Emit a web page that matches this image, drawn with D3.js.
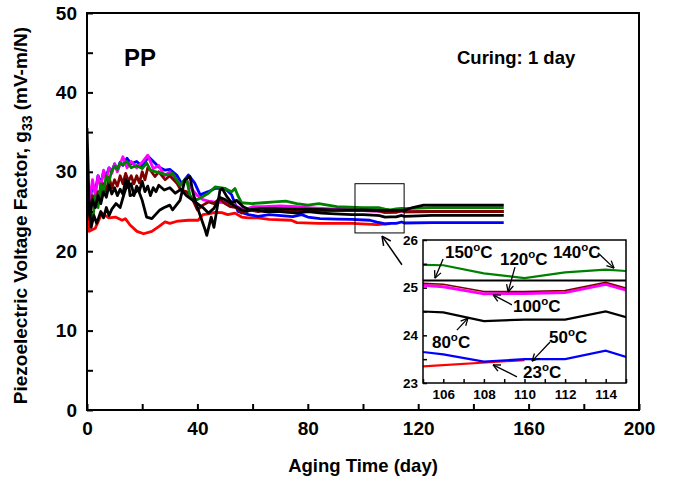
<!DOCTYPE html>
<html><head><meta charset="utf-8">
<script src="https://cdn.jsdelivr.net/npm/d3@7"></script>
<style>body{margin:0;background:#fff}svg{display:block}text{font-family:"Liberation Sans",Arial,sans-serif;font-weight:bold}</style>
</head><body><svg id="c" width="675" height="481"></svg>
<script>
// ---- data ----
const xTicks = [0, 40, 80, 120, 160, 200];
const yTicks = [0, 10, 20, 30, 40, 50];
const insetXTicks = [106, 108, 110, 112, 114];
const insetYTicks = [23, 24, 25, 26];

const s23 = [[0,26.2],[0.8,22.5],[3,22.9],[5.4,24.8],[7.9,24.2],[10.3,24.3],[12.7,23.9],[13.9,24.1],[15.6,23.3],[18.1,22.5],[20.5,22.2],[23.5,22.5],[26,23.1],[28.3,23.7],[30,23.5],[33,23.8],[36.7,23.9],[40.3,23.9],[42,24.6],[44,24.7],[46.4,24.9],[48.8,24.85],[51,24.6],[53.6,24.8],[56,24.3],[58.4,24.2],[62,24.2],[66,24.0],[74,23.9],[76,23.6],[84,23.5],[96,23.5],[105,23.35],[110,23.48]];
const s50 = [[0,28],[1,26],[2,28.5],[3,27.5],[4,29.5],[5,28.5],[6,30],[7,29.5],[8,30.5],[9,30],[10,31],[11,30.2],[12,31.2],[13,30.8],[14.5,31.7],[16,31],[18,31.3],[20,30.7],[22.3,31.9],[24.6,31.1],[26,30.6],[28.3,30.2],[30,30.3],[32.5,29.6],[34.3,28.5],[36.7,29.6],[39,28.6],[41,27.1],[43.9,27.5],[46.4,27.9],[50,27.9],[52.4,27.1],[54.7,25.0],[58.5,24.6],[62,24.4],[66,24.6],[74.6,24.35],[77.8,24.6],[80,24.3],[84.4,24.1],[90.5,24.05],[96,24.0],[102.5,23.9],[105,23.65],[106,23.6],[108,23.45],[110,23.5],[112,23.5],[114,23.68],[115,23.55],[125,23.6],[140,23.6],[151,23.6]];
const s80 = [[0,26],[1,24.5],[2,26.5],[3,25.5],[4,27],[5,26],[6,27.5],[7,26.8],[8,28.3],[9,27.2],[10,28],[11,27],[12,27.8],[13,27.2],[14,29],[15,28],[16,28.5],[17,27],[18,28.2],[19,27.6],[20,28.8],[21,27.5],[22,28.2],[23,27],[24,28],[25,27.5],[26,28.3],[28,27.7],[30,28],[32,27.3],[34,27.8],[36,27],[38,26.5],[40,26.0],[42,25.5],[44,24.8],[46,25.4],[48,26.8],[50,26.5],[52,26.0],[54,25.6],[56,25.2],[58,25.0],[60,25.3],[64,25.0],[70,25.0],[76,24.8],[80,25.0],[85,24.8],[90,24.7],[96,24.6],[100,24.6],[105,24.5],[106,24.48],[108,24.3],[110,24.33],[112,24.33],[114,24.5],[115,24.38],[125,24.5],[140,24.5],[151,24.5]];
const s100 = [[0,26],[1,24],[2,27],[3,25.5],[4,27.5],[5,26.5],[6,28.5],[7,27.5],[8,29.3],[9,28],[10,29],[11,28.2],[12,29.5],[13,28.5],[14,29.8],[15,28.8],[16,29.5],[17,28.5],[18,29.5],[19,28.6],[20,30],[21,29],[22,30.5],[23,30.2],[24.6,29.4],[26,30],[28.3,29],[30,29.5],[32.5,28.6],[34,27.7],[36,27.5],[38,26.7],[40,25.2],[42,25.8],[44,26.2],[46,26],[48,26.6],[50,26],[52,25.6],[54,25.5],[56,24.8],[58,25.2],[62,25.0],[66,25.2],[70,25.1],[76,25.0],[80,25.1],[90,25.1],[100,25.1],[105,25.07],[106,25.05],[108,24.9],[110,24.9],[112,24.92],[114,25.09],[115,24.97],[125,25.0],[140,25.0],[151,25.0]];
const s120 = [[0,27.7],[1,26.5],[2,29],[3,27],[4,29.5],[5,28],[6,30.2],[7,29],[8,30.5],[9,29.8],[10,31],[11,30],[13,31.9],[14.5,30.5],[16,31.3],[18,30.5],[20,31.2],[22,32.1],[24,30.4],[26,30.8],[28,29.5],[30,30],[32,29.2],[34,28.3],[36,29],[38,27.8],[40,27],[42,26.5],[44,26.3],[46,26.2],[50,26.1],[52,26.3],[54,25.7],[57,25.2],[60,25.6],[64,25.6],[70,25.7],[76,25.6],[80,25.5],[90,25.3],[100,25.1],[105,25.05],[106,25.02],[108,24.87],[110,24.88],[112,24.9],[114,25.07],[115,24.95],[125,25.0],[140,25.0],[151,25.0]];
const s140 = [[0,27],[1,25],[2.2,24.2],[3,27],[4,25.5],[5,28.5],[6,27.5],[7,29.5],[8,28.8],[9,30.2],[10,30.7],[11,30.3],[12,31.1],[13,30.9],[14.5,31.3],[16,30.5],[18,30.8],[20,30.4],[21.6,31.1],[23,30.2],[25,30],[27,29.8],[29,29.6],[31,29.8],[33.7,28.3],[36,29.2],[37.5,26.7],[40,26.5],[42,26.9],[44,27.3],[46.4,28.1],[50,27.9],[52.4,27.5],[53.6,27.9],[54.8,26.9],[56,26.1],[59.7,26.0],[64,26.1],[68,26.2],[72,26.3],[76,26.0],[80,25.8],[84,26.0],[90.5,25.6],[100,25.5],[105,25.48],[106,25.47],[108,25.3],[110,25.2],[112,25.32],[114,25.38],[115,25.35],[125,25.5],[140,25.5],[151,25.5]];
const s150 = [[0,35.5],[0.7,26.5],[1.5,23],[2.5,24.5],[3.5,23.5],[5,25],[6,24.2],[7,25.5],[8,24.5],[9,25.3],[10.5,26],[12,25.5],[13.5,27.3],[15,28.8],[15.6,27],[17,27.2],[18.5,27.8],[20,26.4],[21.6,24.3],[23.5,24.1],[26.4,25.2],[28,25.5],[30,25.8],[31,25.2],[33.7,26.4],[35.5,29],[37.3,29.4],[38.5,27.2],[40.3,25.2],[42.8,22.7],[43.4,22.0],[45,24.3],[46,23],[48.2,27.7],[49,27.9],[50.6,26.9],[52.4,26.1],[54.2,26.4],[56.6,25.6],[59,25.2],[62.7,25.4],[68,25.4],[75,25.3],[80,25.3],[90,25.2],[100,25.2],[105,25.15],[115,25.15],[118,25.5],[122,25.8],[135,25.8],[151,25.8]];

const series = [
  {name:"23", data:s23, color:"#ff0000"},
  {name:"50", data:s50, color:"#0000ff"},
  {name:"120", data:s120, color:"#ff00ff"},
  {name:"100", data:s100, color:"#800000"},
  {name:"140", data:s140, color:"#008000"},
  {name:"80", data:s80, color:"#000000"},
  {name:"150", data:s150, color:"#000000"}
];

// inset labels: [text, textX, textY, arrowFromX, arrowFromY, arrowToX, arrowToY]
const insetLabels = [
  ["150", 106.08, 25.62, 105.99, 25.60, 105.59, 25.20],
  ["120", 108.79, 25.48, 109.53, 25.43, 109.19, 24.91],
  ["140", 111.40, 25.62, 113.62, 25.73, 114.41, 25.41],
  ["100", 109.43, 24.49, 109.38, 24.64, 108.45, 24.85],
  ["80", 105.44, 23.73, 106.67, 24.11, 107.22, 24.36],
  ["50", 111.21, 23.84, 111.26, 23.86, 110.37, 23.46],
  ["23", 109.93, 23.10, 109.63, 23.13, 108.45, 23.38]
];
const zoomBox = {x0: 97.1, x1: 114.9, y0: 22.3, y1: 28.5};
const zoomArrow = {x0: 114.1, y0: 18.3, x1: 106.9, y1: 21.9};

// ---- drawing ----
const svg = d3.select("#c");
const L = 87, R = 639, T = 13, B = 410;
const x = d3.scaleLinear().domain([0, 200]).range([L, R]);
const y = d3.scaleLinear().domain([0, 50]).range([B, T]);

const line = d3.line().x(d => x(d[0])).y(d => y(d[1]));
svg.append("clipPath").attr("id","mainclip").append("rect").attr("x",L).attr("y",T).attr("width",R-L).attr("height",B-T);
const gl = svg.append("g").attr("clip-path","url(#mainclip)");
series.forEach(s => {
  gl.append("path").attr("d", line(s.data)).attr("fill","none").attr("stroke",s.color)
    .attr("stroke-width",2.8).attr("stroke-linejoin","round");
});

// frame
svg.append("rect").attr("x",L).attr("y",T).attr("width",R-L).attr("height",B-T)
  .attr("fill","none").attr("stroke","#000").attr("stroke-width",2);

// axes ticks (inward)
const xAxis = d3.axisBottom(x).tickValues(d3.range(0,201,20)).tickSize(-6).tickPadding(12)
  .tickFormat(d => xTicks.includes(d) ? d : "");
const gx = svg.append("g").attr("transform",`translate(0,${B})`).call(xAxis);
const yAxis = d3.axisLeft(y).tickValues(d3.range(0,51,5)).tickSize(-6).tickPadding(10)
  .tickFormat(d => yTicks.includes(d) ? d : "");
const gy = svg.append("g").attr("transform",`translate(${L},0)`).call(yAxis);
[gx, gy].forEach(g => {
  g.select(".domain").remove();
  g.selectAll(".tick line").attr("stroke","#000").attr("stroke-width",2);
  g.selectAll(".tick text").attr("fill","#000").style("font-size","19px").style("font-family","Liberation Sans, Arial").style("font-weight","bold");
});

// titles
svg.append("text").attr("x",(L+R)/2).attr("y",472).attr("text-anchor","middle").style("font-size","18.5px").text("Aging Time (day)");
const yt = svg.append("text").attr("transform",`translate(27,${(T+B)/2+4}) rotate(-90)`).attr("text-anchor","middle").style("font-size","19px");
yt.append("tspan").text("Piezoelectric Voltage Factor, g");
yt.append("tspan").attr("dy",5).style("font-size","14px").text("33");
yt.append("tspan").attr("dy",-5).text(" (mV-m/N)");

svg.append("text").attr("x",124).attr("y",66).style("font-size","24px").text("PP");
svg.append("text").attr("x",457).attr("y",64).style("font-size","18.5px").text("Curing: 1 day");

// zoom box and arrow
svg.append("rect").attr("x",x(zoomBox.x0)).attr("y",y(zoomBox.y1))
  .attr("width",x(zoomBox.x1)-x(zoomBox.x0)).attr("height",y(zoomBox.y0)-y(zoomBox.y1))
  .attr("fill","none").attr("stroke","#000").attr("stroke-width",1);

function arrow(g, x0, y0, x1, y1, head, w){
  g.append("line").attr("x1",x0).attr("y1",y0).attr("x2",x1).attr("y2",y1).attr("stroke","#000").attr("stroke-width",w);
  const a = Math.atan2(y1-y0, x1-x0);
  [0.45,-0.45].forEach(da => {
    g.append("line").attr("x1",x1).attr("y1",y1)
      .attr("x2",x1 - head*Math.cos(a+da)).attr("y2",y1 - head*Math.sin(a+da))
      .attr("stroke","#000").attr("stroke-width",w);
  });
}
arrow(svg, x(zoomArrow.x0), y(zoomArrow.y0), x(zoomArrow.x1), y(zoomArrow.y1), 10, 1.5);

// inset
const IL = 423, IR = 626, IT = 240, IB = 383;
const ix = d3.scaleLinear().domain([105,115]).range([IL,IR]);
const iy = d3.scaleLinear().domain([23,26]).range([IB,IT]);
const gi = svg.append("g");
gi.append("rect").attr("x",IL).attr("y",IT).attr("width",IR-IL).attr("height",IB-IT).attr("fill","#fff");
svg.append("clipPath").attr("id","iclip").append("rect").attr("x",IL).attr("y",IT).attr("width",IR-IL).attr("height",IB-IT);
const ili = d3.line().x(d => ix(d[0])).y(d => iy(d[1]));
const gil = gi.append("g").attr("clip-path","url(#iclip)");
series.forEach(s => {
  const w = s.name === "100" ? 1.5 : (s.name === "120" ? 3 : 2.2);
  const off = s.name === "100" ? -1 : 0;
  gil.append("path").attr("d", ili(s.data)).attr("transform",`translate(0,${off})`).attr("fill","none").attr("stroke",s.color).attr("stroke-width",w);
});
gi.append("rect").attr("x",IL).attr("y",IT).attr("width",IR-IL).attr("height",IB-IT).attr("fill","none").attr("stroke","#000").attr("stroke-width",1.5);
const ixa = d3.axisBottom(ix).tickValues(d3.range(105,116,1)).tickSize(-4).tickPadding(6).tickFormat(d => insetXTicks.includes(d) ? d : "");
const iya = d3.axisLeft(iy).tickValues(d3.range(23,26.01,0.5)).tickSize(-4).tickPadding(5).tickFormat(d => insetYTicks.includes(d) ? d : "");
const gix = gi.append("g").attr("transform",`translate(0,${IB})`).call(ixa);
const giy = gi.append("g").attr("transform",`translate(${IL},0)`).call(iya);
[gix, giy].forEach(g => {
  g.select(".domain").remove();
  g.selectAll(".tick line").attr("stroke","#000").attr("stroke-width",1.5);
  g.selectAll(".tick text").attr("fill","#000").style("font-size","13.5px").style("font-family","Liberation Sans, Arial").style("font-weight","bold");
});
insetLabels.forEach(l => {
  const t = gi.append("text").attr("x",ix(l[1])).attr("y",iy(l[2])).style("font-size","17px");
  t.append("tspan").text(l[0]);
  t.append("tspan").attr("dy",-7).style("font-size","11.5px").text("o");
  t.append("tspan").attr("dy",7).text("C");
  arrow(gi, ix(l[3]), iy(l[4]), ix(l[5]), iy(l[6]), 8, 1.3);
});
</script></body></html>
